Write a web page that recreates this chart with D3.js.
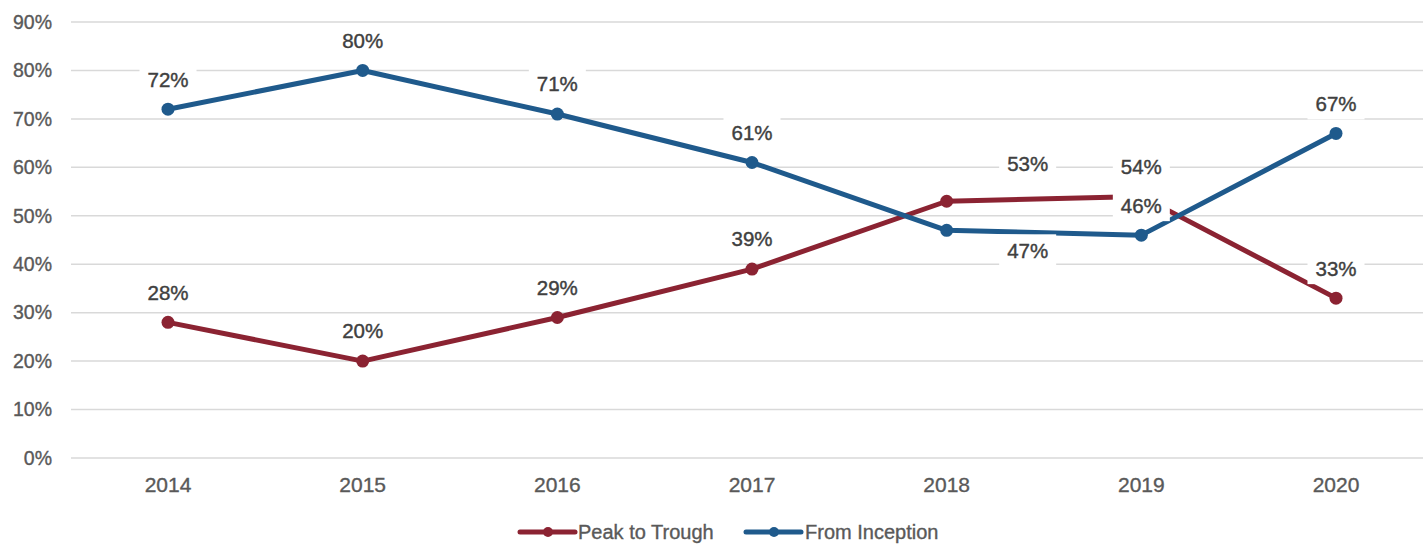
<!DOCTYPE html>
<html><head><meta charset="utf-8">
<script src="https://cdn.jsdelivr.net/npm/d3@7"></script>
<style>body{margin:0;background:#fff}svg{display:block}</style>
</head><body><svg id="c" width="1423" height="544"></svg>
<script>
const years = ["2014","2015","2016","2017","2018","2019","2020"];
const peakToTrough = [28,20,29,39,53,54,33];
const fromInception = [72,80,71,61,47,46,67];
const yTicks = [0,10,20,30,40,50,60,70,80,90];
const seriesNames = ["Peak to Trough","From Inception"];
const seriesColors = ["#8B2332","#1F5A8C"];

// label placement (styling, not data): [dx, dy] from point
const labelPlace = [
  [[0,-30],[0,-30],[0,-30],[0,-30],[81,-38],[0,-30],[0,-30]],
  [[0,-30],[0,-30],[0,-30],[0,-30],[81,20],[0,-30],[0,-30]]
];

const svg = d3.select("#c");
const font = "'Liberation Sans', Arial, sans-serif";
const x = d3.scalePoint().domain(years).range([168,1336]);
const y = d3.scaleLinear().domain([0,90]).range([458,22]);

// gridlines
svg.append("g").selectAll("line").data(yTicks).join("line")
  .attr("x1",71).attr("x2",1423)
  .attr("y1",d=>y(d)).attr("y2",d=>y(d))
  .attr("stroke","#d9d9d9").attr("stroke-width",1.5);

// y labels
svg.append("g").selectAll("text").data(yTicks).join("text")
  .attr("x",52).attr("y",d=>y(d)).attr("dy","0.35em")
  .attr("text-anchor","end").attr("font-family",font).attr("font-size",19.5)
  .attr("fill","#595959").attr("stroke","#595959").attr("stroke-width",0.35).text(d=>d+"%");

// x labels
svg.append("g").selectAll("text").data(years).join("text")
  .attr("x",d=>x(d)).attr("y",492)
  .attr("text-anchor","middle").attr("font-family",font).attr("font-size",21)
  .attr("fill","#595959").attr("stroke","#595959").attr("stroke-width",0.35).text(d=>d);

const allSeries = [peakToTrough, fromInception];
const line = d3.line().x((d,i)=>x(years[i])).y(d=>y(d));

allSeries.forEach((vals,si)=>{
  svg.append("path").datum(vals).attr("d",line).attr("fill","none")
    .attr("stroke",seriesColors[si]).attr("stroke-width",5).attr("stroke-linejoin","round");
  svg.append("g").selectAll("circle").data(vals).join("circle")
    .attr("cx",(d,i)=>x(years[i])).attr("cy",d=>y(d)).attr("r",6.5)
    .attr("fill",seriesColors[si]);
});

// data labels with white backgrounds
allSeries.forEach((vals,si)=>{
  const g = svg.append("g");
  vals.forEach((v,i)=>{
    const [dx,dy] = labelPlace[si][i];
    const cx = x(years[i])+dx, cy = y(v)+dy;
    g.append("rect").attr("x",cx-28.5).attr("y",cy-16).attr("width",57).attr("height",32).attr("fill","#fff");
    g.append("text").attr("x",cx).attr("y",cy).attr("dy","0.36em")
      .attr("text-anchor","middle").attr("font-family",font).attr("font-size",20.5)
      .attr("fill","#404040").attr("stroke","#404040").attr("stroke-width",0.4).text(v+"%");
  });
});

// legend
const leg = [[520,578],[746,805]];
seriesNames.forEach((n,si)=>{
  const [lx,tx] = leg[si];
  svg.append("line").attr("x1",lx).attr("x2",lx+55).attr("y1",532).attr("y2",532)
    .attr("stroke",seriesColors[si]).attr("stroke-width",5).attr("stroke-linecap","round");
  svg.append("circle").attr("cx",lx+28).attr("cy",532).attr("r",5).attr("fill",seriesColors[si]);
  svg.append("text").attr("x",tx).attr("y",532).attr("dy","0.35em")
    .attr("font-family",font).attr("font-size",20).attr("fill","#595959")
    .attr("stroke","#595959").attr("stroke-width",0.35).text(n);
});
</script></body></html>
